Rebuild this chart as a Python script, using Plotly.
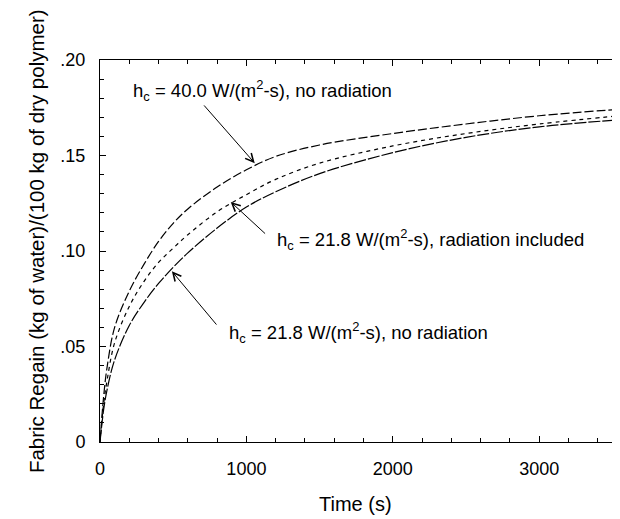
import plotly.graph_objects as go

# Time (s)
time_s = [0, 25, 50, 100, 200, 300, 400, 500, 600, 800, 1000, 1200, 1500, 2000, 2500, 3000, 3600]

# Fabric regain
hc40_norad = [0, 0.024, 0.040, 0.060, 0.079, 0.093, 0.105, 0.1145, 0.122, 0.1335, 0.1425, 0.1495, 0.1555, 0.1615, 0.1665, 0.1708, 0.1745]
hc218_rad = [0, 0.020, 0.033, 0.052, 0.071, 0.084, 0.094, 0.1015, 0.1085, 0.1205, 0.1295, 0.1375, 0.146, 0.155, 0.1615, 0.1665, 0.1712]
hc218_norad = [0, 0.017, 0.028, 0.043, 0.061, 0.073, 0.083, 0.0915, 0.099, 0.112, 0.123, 0.131, 0.1405, 0.1515, 0.1595, 0.165, 0.169]

labels = [
    "h<sub>c</sub> = 40.0 W/(m<sup>2</sup>-s), no radiation",
    "h<sub>c</sub> = 21.8 W/(m<sup>2</sup>-s), radiation included",
    "h<sub>c</sub> = 21.8 W/(m<sup>2</sup>-s), no radiation",
]
# label anchor (left, middle) in data coords
label_x = [211, 1193, 866]
label_y = [0.1838, 0.1058, 0.0571]
# arrow tails and tips in data coords
tail_x = [702, 1138, 804]
tail_y = [0.177, 0.1084, 0.0607]
tip_x = [1057, 893, 491]
tip_y = [0.146, 0.1257, 0.0894]

x_tickvals = [0, 1000, 2000, 3000]
x_ticktext = ["0", "1000", "2000", "3000"]
y_tickvals = [0, 0.05, 0.10, 0.15, 0.20]
y_ticktext = ["0", ".05", ".10", ".15", ".20"]

x_title = "Time (s)"
y_title = "Fabric Regain (kg of water)/(100 kg of dry polymer)"

FONT = "Liberation Sans, Arial, Helvetica, sans-serif"

fig = go.Figure()
fig.add_trace(go.Scatter(x=time_s, y=hc40_norad, mode="lines", line=dict(color="black", width=1.2, dash="9px,3px", shape="spline"), showlegend=False))
fig.add_trace(go.Scatter(x=time_s, y=hc218_rad, mode="lines", line=dict(color="black", width=1.2, dash="4px,4px", shape="spline"), showlegend=False))
fig.add_trace(go.Scatter(x=time_s, y=hc218_norad, mode="lines", line=dict(color="black", width=1.2, dash="12px,2px", shape="spline"), showlegend=False))

for i in range(3):
    fig.add_annotation(x=label_x[i], y=label_y[i], xref="x", yref="y", text=labels[i],
                       showarrow=False, xanchor="left", yanchor="middle",
                       font=dict(family=FONT, size=18.5, color="black"))
    fig.add_annotation(x=tip_x[i], y=tip_y[i], ax=tail_x[i], ay=tail_y[i],
                       xref="x", yref="y", axref="x", ayref="y", text="",
                       showarrow=True, arrowhead=5, arrowsize=1.6, arrowwidth=1,
                       arrowcolor="black", standoff=0, startstandoff=0)

# axis titles
fig.add_annotation(x=0.4839, y=-0.162, xref="paper", yref="paper", text=x_title,
                   showarrow=False, xanchor="center", yanchor="middle",
                   font=dict(family=FONT, size=20, color="black"))
fig.add_annotation(x=-0.1214, y=0.526, xref="paper", yref="paper", text=y_title,
                   showarrow=False, xanchor="center", yanchor="middle", textangle=-90,
                   font=dict(family=FONT, size=20.5, color="black"))

fig.update_xaxes(range=[0, 3600], tickvals=x_tickvals, ticktext=x_ticktext,
                 showline=True, linecolor="black", linewidth=1, mirror="ticks",
                 ticks="inside", ticklen=6, tickcolor="black", showgrid=False, zeroline=False,
                 minor=dict(dtick=200, ticks="inside", ticklen=4, tickcolor="black", showgrid=False),
                 tickfont=dict(family=FONT, size=18, color="black"), ticklabelstandoff=10)
fig.update_yaxes(range=[0, 0.2], tickvals=y_tickvals, ticktext=y_ticktext,
                 showline=True, linecolor="black", linewidth=1, mirror="ticks",
                 ticks="inside", ticklen=6, tickcolor="black", showgrid=False, zeroline=False,
                 minor=dict(dtick=0.01, ticks="inside", ticklen=4, tickcolor="black", showgrid=False),
                 tickfont=dict(family=FONT, size=18, color="black"), ticklabelstandoff=10)

fig.update_layout(width=620, height=519, margin=dict(l=92, r=1, t=52, b=85, autoexpand=False),
                  plot_bgcolor="white", paper_bgcolor="white")

fig.write_html("out.html")
